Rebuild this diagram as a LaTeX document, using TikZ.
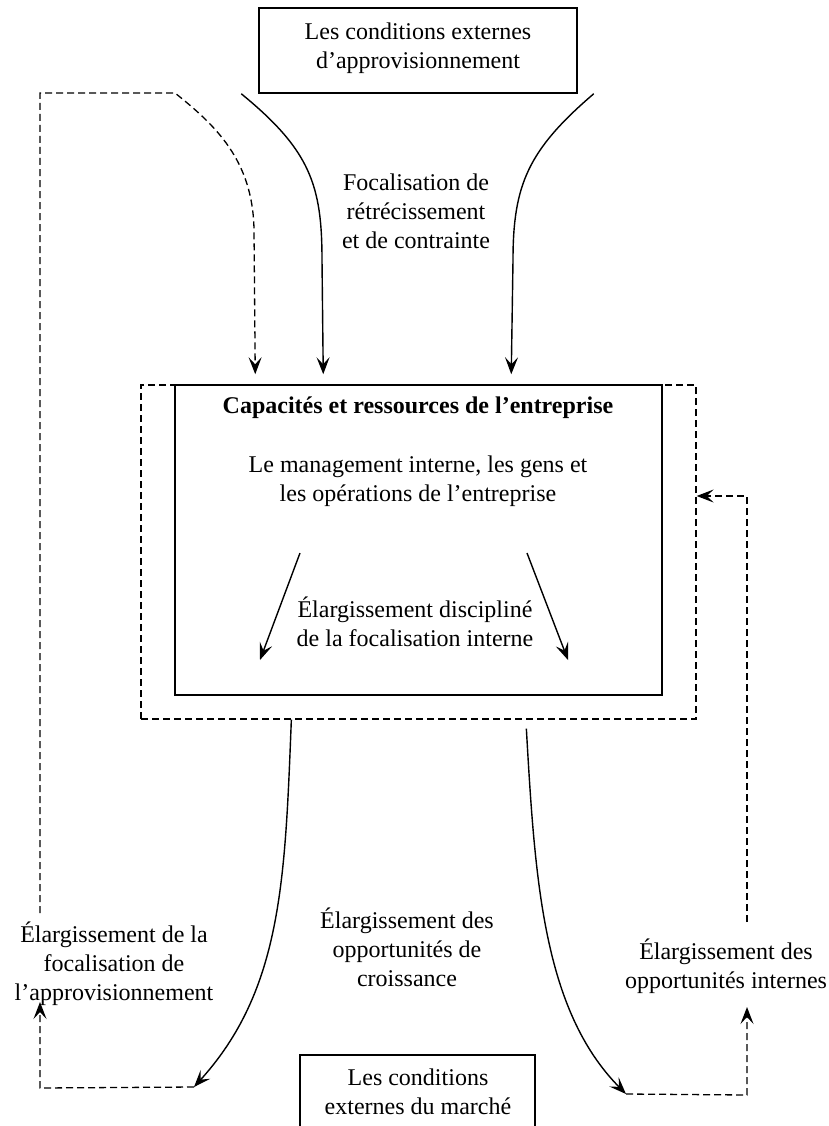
\documentclass[tikz,border=0pt]{standalone}
\usepackage{fontspec}
\setmainfont{Liberation Serif}
\usetikzlibrary{arrows.meta,calc}
\begin{document}
\begin{tikzpicture}[x=1pt,y=-1pt,
  txt/.style={align=center,inner sep=0pt,font=\fontsize{24}{29}\selectfont},
  boxed/.style={draw,line width=1.5pt,inner sep=0pt},
  tip/.style={-{Stealth[length=17pt,width=13pt,inset=7pt]}},
  flow/.style={line width=1.4pt,tip},
  feedline/.style={line width=1.3pt,dash pattern=on 7pt off 4pt},
  feed/.style={feedline,tip}]
\clip (0,0) rectangle (828,1126);
\fill[white] (0,0) rectangle (828,1126);

% boxes
\node[boxed,minimum width=318pt,minimum height=85pt] (supply) at (418,50.5) {};
\node[feedline,draw,inner sep=0pt,minimum width=555pt,minimum height=334pt] (outer) at (418.5,552) {};
\node[boxed,fill=white,minimum width=487pt,minimum height=310pt] (core) at (418.5,540) {};
\node[boxed,minimum width=235pt,minimum height=90pt] (market) at (417.5,1100) {};

% texts
\node[txt] (supplytxt) at (418,48) {Les conditions externes\\d’approvisionnement};
\node[txt] (narrow) at (416,211) {Focalisation de\\rétrécissement\\et de contrainte};
\node[txt,font=\fontsize{24}{29}\selectfont\bfseries] (title) at (418,408) {Capacités et ressources de l’entreprise};
\node[txt] (mgmt) at (418,481) {Le management interne, les gens et\\les opérations de l’entreprise};
\node[txt] (disc) at (415,622) {Élargissement discipliné\\de la focalisation interne};
\node[txt] (growth) at (407,947) {Élargissement des\\opportunités de\\croissance};
\node[txt] (supplywide) at (114,964) {Élargissement de la\\focalisation de\\l’approvisionnement};
\node[txt] (internal) at (726,966) {Élargissement des\\opportunités internes};
\node[txt] (markettxt) at (418,1092) {Les conditions\\externes du marché};

% anchor points of the connectors
\coordinate (sL) at ($(supply.south west)+(-17,0)$);
\coordinate (sR) at ($(supply.south east)+(16,0)$);
\coordinate (cL) at ($(core.north west)+(149,-10)$);
\coordinate (cR) at ($(core.north west)+(337,-10)$);
\coordinate (cD) at ($(core.north west)+(81,-10)$);
\coordinate (iLs) at (300,553);
\coordinate (iLe) at (260,660);
\coordinate (iRs) at (527,553);
\coordinate (iRe) at (568,660);
\coordinate (oL) at ($(outer.south west)+(151,0)$);
\coordinate (oR) at ($(outer.south west)+(386,9)$);
\coordinate (gL) at (194,1087);
\coordinate (gR) at (626,1094);
\coordinate (lb) at (40,1088);
\coordinate (lu) at (40,1002);
\coordinate (lt) at (40,913);
\coordinate (ltop) at (40,93);
\coordinate (lk) at (175,93);
\coordinate (rb) at (747,1095);
\coordinate (ru) at (747,1007);
\coordinate (rt) at (747,922);
\coordinate (rm) at (747,496);
\coordinate (rin) at (outer.east |- rm);

% narrowing flows into the firm
\draw[flow] (sL) .. controls (310,150) and (322,185) .. (322,260) -- (cL);
\draw[flow] (sR) .. controls (528,150) and (513,185) .. (513,260) -- (cR);

% disciplined internal widening
\draw[flow] (iLs) -- (iLe);
\draw[flow] (iRs) -- (iRe);

% widening towards the market
\draw[flow] (oL) .. controls (285,880) and (282,990) .. (gL);
\draw[flow] (oR) .. controls (535,880) and (543,1010) .. (gR);

% feedback loops
\draw[feed] (gL) -- (lb) -- (lu);
\draw[feed] (lt) -- (ltop) -- (lk) .. controls (215,125) and (253,160) .. (254,230) -- (cD);
\draw[feed] (gR) -- (rb) -- (ru);
\draw[feed] (rt) -- (rm) -- (rin);
\end{tikzpicture}
\end{document}
